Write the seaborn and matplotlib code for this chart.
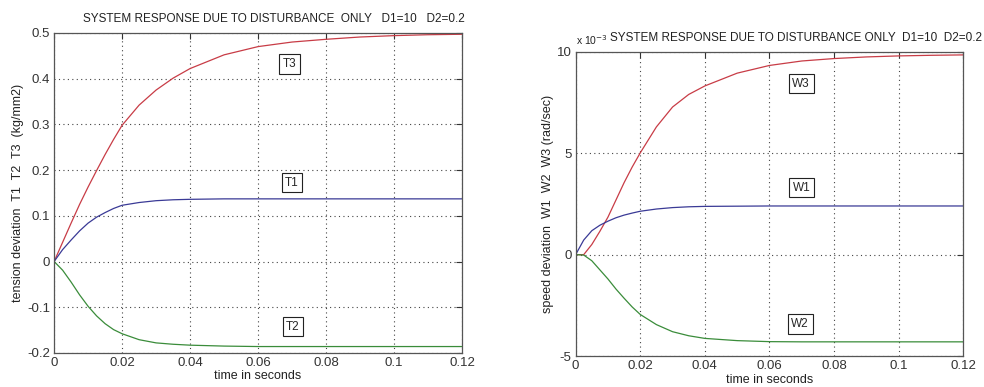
"""
Tension and speed deviation due to disturbance only (D1=10, D2=0.2)
"""
import seaborn as sns
import pandas as pd
import matplotlib
matplotlib.use("Agg")
import matplotlib.pyplot as plt

# time axis (seconds)
t = [0, 0.0025, 0.005, 0.0075, 0.01, 0.0125, 0.015, 0.0175, 0.02, 0.025, 0.03,
     0.035, 0.04, 0.05, 0.06, 0.07, 0.08, 0.09, 0.1, 0.11, 0.12]

# tension deviation (kg/mm2)
T1 = [0, 0.026, 0.047, 0.067, 0.084, 0.097, 0.107, 0.116, 0.123, 0.129, 0.133,
      0.135, 0.136, 0.137, 0.137, 0.137, 0.137, 0.137, 0.137, 0.137, 0.137]
T2 = [0, -0.019, -0.045, -0.073, -0.098, -0.119, -0.136, -0.149, -0.158, -0.171, -0.178,
      -0.181, -0.183, -0.185, -0.186, -0.186, -0.186, -0.186, -0.186, -0.186, -0.186]
T3 = [0, 0.042, 0.084, 0.125, 0.163, 0.199, 0.234, 0.267, 0.298, 0.342, 0.375,
      0.401, 0.422, 0.452, 0.470, 0.480, 0.486, 0.491, 0.494, 0.496, 0.497]

# speed deviation (rad/sec), in units of 1e-3
W1 = [0, 0.72, 1.18, 1.45, 1.65, 1.82, 1.95, 2.05, 2.14, 2.25, 2.32,
      2.36, 2.38, 2.39, 2.4, 2.4, 2.4, 2.4, 2.4, 2.4, 2.4]
W2 = [0, -0.02, -0.3, -0.75, -1.2, -1.7, -2.15, -2.58, -2.95, -3.45, -3.8,
      -4.0, -4.13, -4.24, -4.29, -4.3, -4.3, -4.3, -4.3, -4.3, -4.3]
W3 = [0, 0.0, 0.5, 1.15, 1.85, 2.7, 3.55, 4.32, 5.02, 6.3, 7.28,
      7.9, 8.32, 8.95, 9.33, 9.55, 9.67, 9.75, 9.8, 9.83, 9.85]

xticks = [0, 0.02, 0.04, 0.06, 0.08, 0.1, 0.12]
xticklabels = ['0', '0.02', '0.04', '0.06', '0.08', '0.1', '0.12']
tticks = [-0.2, -0.1, 0, 0.1, 0.2, 0.3, 0.4, 0.5]
tticklabels = ['-0.2', '-0.1', '0', '0.1', '0.2', '0.3', '0.4', '0.5']
wticks = [-5, 0, 5, 10]
wticklabels = ['-5', '0', '5', '10']

colors = ["#c83c46", "#3a3a96", "#3a8c3a"]

sns.set_style("white")
plt.rcParams['font.family'] = ['Liberation Sans', 'DejaVu Sans']


def long_df(series, names):
    rows = []
    for name, vals in zip(names, series):
        for x, v in zip(t, vals):
            rows.append([x, name, v])
    return pd.DataFrame(rows, columns=['time', 'curve', 'value'])


def style_axes(ax, yticks, yticklabels, ylim):
    ax.set_xlim(0, 0.12)
    ax.set_ylim(*ylim)
    ax.set_xticks(xticks)
    ax.set_xticklabels(xticklabels)
    ax.set_yticks(yticks)
    ax.set_yticklabels(yticklabels)
    ax.tick_params(direction='in', length=4, labelsize=9.5, colors='#333333',
                   top=True, right=True, pad=3)
    ax.grid(True, linestyle=(0, (1, 3)), color='#444444', linewidth=0.8)
    for s in ax.spines.values():
        s.set_color('#555555')
        s.set_linewidth(0.9)
    ax.set_xlabel('time in seconds', fontsize=9, color='#222222', labelpad=1)
    if ax.get_legend() is not None:
        ax.get_legend().remove()


def box(ax, x, y, s):
    ax.text(x, y, s, fontsize=8.5, ha='center', va='center',
            bbox=dict(boxstyle='square,pad=0.3', fc='white', ec='#222222', lw=0.8))


fig = plt.figure(figsize=(9.84, 3.87), dpi=100)
ax1 = fig.add_axes([0.055, 0.088, 0.4145, 0.827])
ax2 = fig.add_axes([0.585, 0.080, 0.394, 0.786])

df1 = long_df([T3, T1, T2], ['T3', 'T1', 'T2'])
sns.lineplot(data=df1, x='time', y='value', hue='curve', palette=colors,
             linewidth=0.9, ax=ax1)
style_axes(ax1, tticks, tticklabels, (-0.2, 0.5))
ax1.set_ylabel('tension deviation  T1  T2  T3  (kg/mm2)', fontsize=9, color='#222222', labelpad=2)
ax1.text(0.54, 1.025, 'SYSTEM RESPONSE DUE TO DISTURBANCE  ONLY   D1=10   D2=0.2',
         transform=ax1.transAxes, ha='center', va='bottom', fontsize=8.5, color='#222222')
box(ax1, 0.0693, 0.432, 'T3')
box(ax1, 0.0700, 0.172, 'T1')
box(ax1, 0.0703, -0.143, 'T2')

df2 = long_df([W3, W1, W2], ['W3', 'W1', 'W2'])
sns.lineplot(data=df2, x='time', y='value', hue='curve', palette=colors,
             linewidth=0.9, ax=ax2)
style_axes(ax2, wticks, wticklabels, (-5, 10))
ax2.set_ylabel('speed deviation  W1  W2  W3 (rad/sec)', fontsize=9, color='#222222', labelpad=2)
ax2.text(0.0, 1.015, 'x 10$^{-3}$', transform=ax2.transAxes, ha='left', va='bottom',
         fontsize=7.5, color='#222222')
fig.text(0.998, 0.866 + 0.786 * 0.025, 'SYSTEM RESPONSE DUE TO DISTURBANCE ONLY  D1=10  D2=0.2',
         ha='right', va='bottom', fontsize=8.5, color='#222222')
box(ax2, 0.0698, 8.42, 'W3')
box(ax2, 0.0700, 3.29, 'W1')
box(ax2, 0.0695, -3.42, 'W2')

fig.savefig('out.png', dpi=100)
